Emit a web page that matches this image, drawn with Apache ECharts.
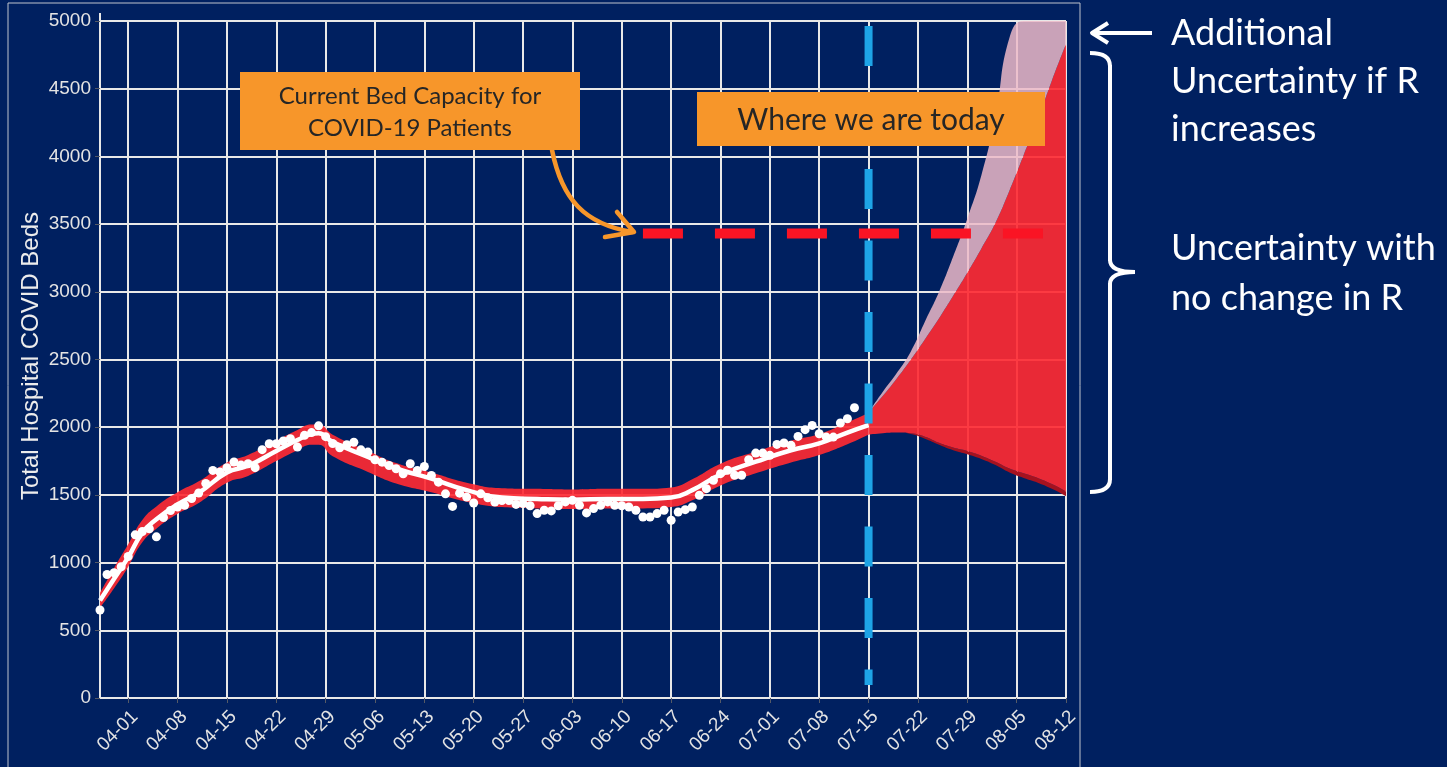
<!DOCTYPE html>
<html>
<head>
<meta charset="utf-8">
<script src="https://cdn.jsdelivr.net/npm/echarts@6/dist/echarts.min.js"></script>
<style>
html,body{margin:0;padding:0;background:#002060;}
#chart{width:1447px;height:767px;}
</style>
</head>
<body>
<div id="chart"></div>
<script>
// ---------- DATA ----------
const startDate = [2020, 3, 28];          // first day on the x axis (03-28)
const dayCount = 138;                      // 03-28 .. 08-12
const tickLabels = ['04-01','04-08','04-15','04-22','04-29','05-06','05-13','05-20','05-27','06-03','06-10','06-17','06-24','07-01','07-08','07-15','07-22','07-29','08-05','08-12'];
const yAxisTitle = 'Total Hospital COVID Beds';

// observed daily hospital beds, one value per day starting 03-28
const observedStart = '03-28';
const observed = [650,912,925,969,1045,1205,1230,1250,1190,1333,1385,1411,1423,1473,1514,1585,1681,1669,1701,1743,
  1720,1730,1701,1834,1878,1878,1898,1915,1853,1940,1960,2010,1930,1880,1848,1870,1889,1833,1816,1759,
  1742,1717,1693,1656,1730,1680,1710,1644,1594,1508,1415,1513,1484,1440,1508,1479,1447,1459,1459,1430,
  1436,1420,1362,1387,1382,1420,1448,1460,1423,1367,1399,1423,1448,1423,1420,1411,1387,1337,1337,1362,
  1387,1313,1374,1391,1411,1497,1546,1608,1657,1682,1645,1645,1760,1809,1809,1792,1873,1883,1866,1932,
  1982,2013,1952,1927,1927,2031,2062,2144];

// fitted curve and its band (historical)
const fitDates = ['03-28','03-30','04-01','04-03','04-05','04-08','04-11','04-15','04-18','04-22','04-25','04-27','04-28','04-30','05-05','05-09','05-14','05-19','05-24','05-29','06-03','06-08','06-13','06-17','06-20','06-24','06-29','07-04','07-08','07-12','07-15'];
const fitMean = [720,880,1040,1220,1320,1430,1515,1665,1715,1825,1905,1950,1955,1890,1780,1695,1620,1535,1480,1470,1465,1470,1470,1480,1535,1650,1745,1830,1880,1960,2015];
const fitHigh = [775,960,1135,1315,1415,1520,1600,1740,1795,1900,1980,2020,2020,1945,1825,1735,1665,1590,1550,1545,1540,1545,1545,1555,1615,1730,1820,1900,1950,2035,2105];
const fitLow  = [665,810,970,1150,1250,1360,1440,1590,1640,1750,1830,1870,1870,1785,1670,1585,1520,1450,1410,1400,1395,1400,1400,1410,1460,1570,1660,1740,1795,1875,1945];

// projection after today
const foreDates = ['07-15','07-17','07-19','07-21','07-23','07-25','07-27','07-29','07-31','08-02','08-04','08-06','08-08','08-10','08-12'];
const foreDarkLow = [1945,1955,1960,1950,1915,1870,1830,1800,1765,1720,1665,1625,1590,1545,1490];
const foreLow     = [1945,1955,1960,1955,1930,1885,1850,1825,1790,1745,1695,1660,1625,1580,1525];
const foreHigh    = [2110,2230,2360,2500,2650,2805,2970,3140,3320,3510,3750,4010,4270,4560,4830];
const foreRHigh   = [2110,2260,2400,2560,2780,3000,3260,3540,3860,4300,4880,5000,5000,5000,5000];

// reference lines
const capacityValue = 3430;
const capacityDates = ['06-13','08-09'];
const todayDate = '07-15';
const todayRange = [4963, 96];

// ---------- BUILD ----------
const categories = [];
for (let i = 0; i < dayCount; i++) {
  const d = new Date(Date.UTC(startDate[0], startDate[1]-1, startDate[2]) + i*86400000);
  categories.push(String(d.getUTCMonth()+1).padStart(2,'0') + '-' + String(d.getUTCDate()).padStart(2,'0'));
}
const pairs = (dates, vals) => dates.map((d,i)=>[d, vals[i]]);
const diff = (a, b) => a.map((v,i)=>v - b[i]);
const obsStartIdx = categories.indexOf(observedStart);
const observedPairs = observed.map((v,i)=>[categories[obsStartIdx+i], v]);
const isTick = (idx, val) => tickLabels.indexOf(categories[idx]) >= 0;

const RED = 'rgba(253,42,51,0.92)';
const chart = echarts.init(document.getElementById('chart'));
const axisFont = 'Liberation Sans, Arial, sans-serif';
const boxFont = 'Lato, "Open Sans", sans-serif';
const W = '#ffffff', OR = '#F7962A';

const option = {
  backgroundColor: '#002060',
  animation: false,
  grid: {left: 100, right: 381, top: 21, bottom: 69, containLabel: false},
  xAxis: {
    type: 'category', data: categories, boundaryGap: false,
    axisLine: {show: true, lineStyle: {color: '#e8e8e8', width: 2}},
    axisTick: {show: true, interval: isTick, length: 5, lineStyle: {color: '#555a66'}},
    axisLabel: {interval: isTick, rotate: 45, color: '#e4e4e4', fontSize: 19, fontFamily: axisFont, margin: 9, verticalAlign: 'top'},
    splitLine: {show: true, interval: isTick, lineStyle: {color: '#e8e8e8', width: 2}}
  },
  yAxis: {
    type: 'value', min: 0, max: 5000, interval: 500,
    axisLine: {show: true, lineStyle: {color: '#e8e8e8', width: 2}},
    axisTick: {show: true, length: 5, lineStyle: {color: '#555a66'}},
    axisLabel: {color: '#e4e4e4', fontSize: 19, fontFamily: axisFont, margin: 9, formatter: v => String(v)},
    splitLine: {show: true, lineStyle: {color: '#e8e8e8', width: 2}}
  },
  series: [
    {type:'line', stack:'hist', data: pairs(fitDates, fitLow), smooth: true, symbol:'none', lineStyle:{opacity:0}, z:2},
    {type:'line', stack:'hist', data: pairs(fitDates, diff(fitHigh, fitLow)), smooth: true, symbol:'none', lineStyle:{opacity:0}, areaStyle:{color: RED, opacity:1}, z:2},
    {type:'line', data: pairs(fitDates, fitMean), smooth: true, symbol:'none', lineStyle:{color:'#ffffff', width:4.5}, z:3},
    {type:'scatter', data: observedPairs, symbolSize: 9, itemStyle:{color:'#ffffff', opacity:1}, z:4},
    {type:'line', stack:'fore', data: pairs(foreDates, foreDarkLow), smooth: true, symbol:'none', lineStyle:{opacity:0}, z:2},
    {type:'line', stack:'fore', data: pairs(foreDates, diff(foreLow, foreDarkLow)), smooth: true, symbol:'none', lineStyle:{opacity:0}, areaStyle:{color:'#A5121F', opacity:1}, z:2},
    {type:'line', stack:'fore', data: pairs(foreDates, diff(foreHigh, foreLow)), smooth: true, symbol:'none', lineStyle:{opacity:0}, areaStyle:{color: RED, opacity:1}, z:2},
    {type:'line', stack:'fore', data: pairs(foreDates, diff(foreRHigh, foreHigh)), smooth: true, symbol:'none', lineStyle:{opacity:0}, areaStyle:{color:'rgba(236,186,200,0.85)', opacity:1}, z:2},
    {type:'line', data: [[capacityDates[0], capacityValue],[capacityDates[1], capacityValue]], symbol:'none',
      lineStyle:{color:'#FA1424', width:10, type:[40,32], cap:'butt'}, z:6},
    {type:'line', data: [[todayDate, todayRange[0]],[todayDate, todayRange[1]]], symbol:'none',
      lineStyle:{color:'#1EA4E6', width:8, type:[40,31.5], cap:'butt'}, z:7}
  ],
  graphic: [
    {type:'rect', shape:{x:8, y:3, width:1072, height:800}, style:{fill:'none', stroke:'#bfc3cc', lineWidth:1}, z:100, silent:true},
    {type:'line', shape:{x1:100, y1:13, x2:100, y2:21}, style:{stroke:'#e8e8e8', lineWidth:2}, z:100},
    {type:'text', x:31, y:356, rotation: Math.PI/2, style:{text:yAxisTitle, fill:'#ececec', font:'24px ' + axisFont, textAlign:'center', textVerticalAlign:'middle'}, z:100},
    {type:'rect', shape:{x:240, y:72, width:340, height:78}, style:{fill:OR}, z:100},
    {type:'text', x:410, y:96, style:{text:'Current Bed Capacity for', fill:'#262626', font:'24px ' + boxFont, textAlign:'center', textVerticalAlign:'middle'}, z:101},
    {type:'text', x:410, y:128, style:{text:'COVID-19 Patients', fill:'#262626', font:'24px ' + boxFont, textAlign:'center', textVerticalAlign:'middle'}, z:101},
    {type:'bezierCurve', shape:{x1:552, y1:150, x2:632, y2:232, cpx1:562, cpy1:200, cpx2:585, cpy2:224}, style:{fill:'none', stroke:OR, lineWidth:4.5, lineCap:'round'}, z:100},
    {type:'polyline', shape:{points:[[617,212],[634,232],[605,237]]}, style:{fill:'none', stroke:OR, lineWidth:4.5, lineCap:'round', lineJoin:'round'}, z:100},
    {type:'rect', shape:{x:697, y:92, width:348, height:54}, style:{fill:OR}, z:100},
    {type:'text', x:871, y:120, style:{text:'Where we are today', fill:'#262626', font:'30px ' + boxFont, textAlign:'center', textVerticalAlign:'middle'}, z:101},
    {type:'line', shape:{x1:1152, y1:33, x2:1095, y2:33}, style:{stroke:W, lineWidth:4}, z:100},
    {type:'polyline', shape:{points:[[1108,23],[1092,33],[1108,43]]}, style:{fill:'none', stroke:W, lineWidth:4, lineJoin:'round'}, z:100},
    {type:'bezierCurve', shape:{x1:1090, y1:53, x2:1110, y2:66, cpx1:1110, cpy1:53}, style:{fill:'none', stroke:W, lineWidth:4}, z:100},
    {type:'line', shape:{x1:1110, y1:65, x2:1110, y2:261}, style:{stroke:W, lineWidth:4}, z:100},
    {type:'bezierCurve', shape:{x1:1110, y1:260, x2:1135, y2:272, cpx1:1110, cpy1:272}, style:{fill:'none', stroke:W, lineWidth:4}, z:100},
    {type:'bezierCurve', shape:{x1:1135, y1:272, x2:1110, y2:284, cpx1:1110, cpy1:272}, style:{fill:'none', stroke:W, lineWidth:4}, z:100},
    {type:'line', shape:{x1:1110, y1:283, x2:1110, y2:480}, style:{stroke:W, lineWidth:4}, z:100},
    {type:'bezierCurve', shape:{x1:1110, y1:479, x2:1090, y2:492, cpx1:1110, cpy1:492}, style:{fill:'none', stroke:W, lineWidth:4}, z:100},
    {type:'text', x:1171, y:51, style:{text:'Additional', fill:W, font:'36px ' + boxFont, textVerticalAlign:'bottom'}, z:100},
    {type:'text', x:1171, y:99, style:{text:'Uncertainty if R', fill:W, font:'36px ' + boxFont, textVerticalAlign:'bottom'}, z:100},
    {type:'text', x:1171, y:147, style:{text:'increases', fill:W, font:'36px ' + boxFont, textVerticalAlign:'bottom'}, z:100},
    {type:'text', x:1171, y:266, style:{text:'Uncertainty with', fill:W, font:'36px ' + boxFont, textVerticalAlign:'bottom'}, z:100},
    {type:'text', x:1171, y:316, style:{text:'no change in R', fill:W, font:'36px ' + boxFont, textVerticalAlign:'bottom'}, z:100}
  ]
};
chart.setOption(option);
</script>
</body>
</html>
